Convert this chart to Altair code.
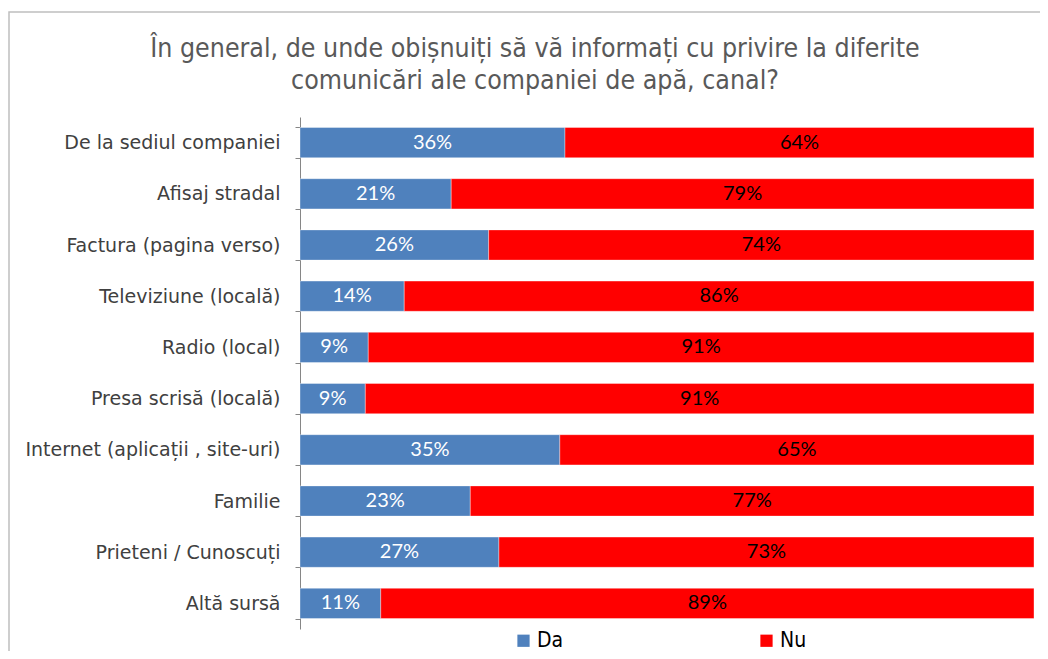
import altair as alt
import pandas as pd

categories = [
    "De la sediul companiei",
    "Afisaj stradal",
    "Factura (pagina verso)",
    "Televiziune (locală)",
    "Radio (local)",
    "Presa scrisă (locală)",
    "Internet (aplicații , site-uri)",
    "Familie",
    "Prieteni / Cunoscuți",
    "Altă sursă",
]
da_values = [36.1, 20.6, 25.7, 14.2, 9.3, 8.9, 35.4, 23.2, 27.1, 11.0]
nu_values = [63.9, 79.4, 74.3, 85.8, 90.7, 91.1, 64.6, 76.8, 72.9, 89.0]
series_names = ["Da", "Nu"]
series_colors = ["#4F81BD", "#FF0000"]
title_lines = [
    "În general, de unde obișnuiți să vă informați cu privire la diferite",
    "comunicări ale companiei de apă, canal?",
]

rows = []
for c, d, n in zip(categories, da_values, nu_values):
    rows.append({"category": c, "series": "Da", "value": d, "order": 0})
    rows.append({"category": c, "series": "Nu", "value": n, "order": 1})
df = pd.DataFrame(rows)

y_enc = alt.Y(
    "category:N",
    sort=categories,
    scale=alt.Scale(paddingInner=0.41, paddingOuter=0.205),
    axis=alt.Axis(
        title=None,
        tickBand="extent",
        tickSize=5,
        tickColor="#868686",
        domainColor="#868686",
        labelFont="DejaVu Sans",
        labelFontSize=19,
        labelColor="#404040",
        labelPadding=15,
        labelLimit=400,
    ),
)

base = (
    alt.Chart(df)
    .transform_stack(
        stack="value",
        groupby=["category"],
        as_=["x0", "x1"],
        sort=[alt.SortField("order", order="ascending")],
    )
    .transform_calculate(
        mid="(datum.x0 + datum.x1) / 2",
        label="format(datum.value, '.0f') + '%'",
    )
)

bars = base.mark_bar(stroke="#ffffff", strokeOpacity=0.6, strokeWidth=0.6).encode(
    y=y_enc,
    x=alt.X("x0:Q", scale=alt.Scale(domain=[0, 100], nice=False), axis=None),
    x2="x1:Q",
    color=alt.Color(
        "series:N",
        scale=alt.Scale(domain=series_names, range=series_colors),
        legend=alt.Legend(
            title=None,
            orient="none",
            legendX=213,
            legendY=513,
            direction="horizontal",
            symbolType="square",
            symbolSize=150,
            symbolStrokeWidth=0,
            labelFont="DejaVu Sans Condensed",
            labelFontSize=21,
            labelColor="#000000",
            labelOffset=3,
            columnPadding=192,
        ),
    ),
)

text = base.mark_text(font="Lato", fontSize=20).encode(
    y=alt.Y("category:N", sort=categories),
    x=alt.X("mid:Q"),
    text="label:N",
    color=alt.condition("datum.series == 'Da'", alt.value("#ffffff"), alt.value("#000000")),
)

frame = (
    alt.Chart(pd.DataFrame({"a": [0]}))
    .mark_rect(fill="transparent", stroke="#BFBFBF", strokeWidth=1.5)
    .encode(
        x=alt.value(-291),
        x2=alt.value(800),
        y=alt.value(-105),
        y2=alt.value(600),
    )
)

title = (
    alt.Chart(pd.DataFrame({"a": [0]}))
    .mark_text(
        font="DejaVu Sans Condensed",
        fontSize=26.5,
        color="#595959",
        align="center",
        baseline="alphabetic",
        lineHeight=32,
    )
    .encode(
        x=alt.value(235),
        y=alt.value(-60),
        text=alt.value(title_lines),
    )
)

chart = (
    alt.layer(frame, title, bars, text)
    .properties(
        width=734,
        height=512,
        autosize=alt.AutoSizeParams(type="none"),
        padding={"left": 292, "top": 109, "right": 6, "bottom": 22},
    )
    .configure_view(stroke=None)
)

chart.save("out.html", embed_options={"renderer": "svg", "actions": False})
